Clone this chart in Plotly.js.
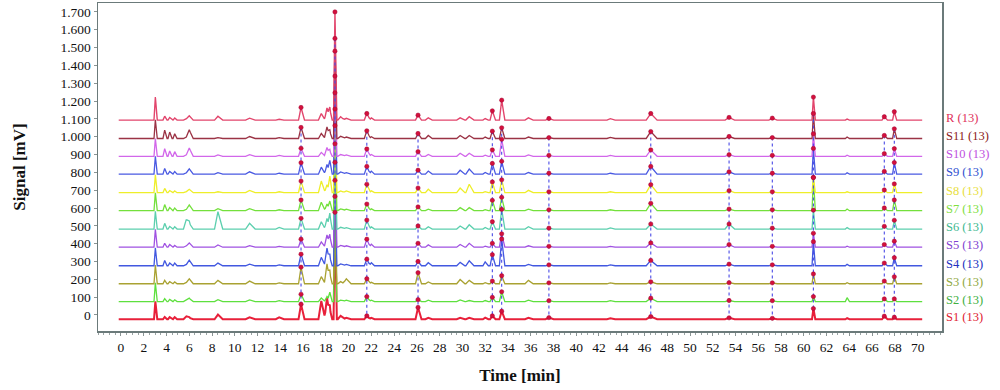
<!DOCTYPE html>
<html>
<head>
<meta charset="utf-8">
<script src="https://cdn.plot.ly/plotly-3.0.1.min.js"></script>
<style>html,body{margin:0;padding:0;background:#fff;}#chart{width:1000px;height:390px;}</style>
</head>
<body>
<div id="chart"></div>
<script>
const sampleNames = ["R", "S11", "S10", "S9", "S8", "S7", "S6", "S5", "S4", "S3", "S2", "S1"];
const sampleLabels = ["R (13)", "S11 (13)", "S10 (13)", "S9 (13)", "S8 (13)", "S7 (13)", "S6 (13)", "S5 (13)", "S4 (13)", "S3 (13)", "S2 (13)", "S1 (13)"];
// baseline signal level of each stacked chromatogram (mV)
const baselines = [1093, 990, 890, 790, 686, 585, 482, 380, 276, 175, 75, -24];
// retention times of detected peaks (min)
const peakTimes = [3.02, 3.84, 4.28, 4.72, 5.74, 6.0, 8.52, 11.3, 13.9, 15.82, 17.6, 18.1, 18.35, 18.8, 19.3, 19.8,
  21.6, 22.0, 26.1, 27.0, 29.8, 30.6, 32.0, 32.63, 33.45, 35.8, 37.6, 43.0, 46.55, 53.43, 57.23, 60.84, 63.8, 67.07, 67.95];
// half width of each peak (min)
const peakWidths = [0.12, 0.15, 0.15, 0.15, 0.25, 0.25, 0.3, 0.35, 0.3, 0.22, 0.25, 0.22, 0.15, 0.12, 0.25, 0.3,
  0.22, 0.2, 0.22, 0.25, 0.3, 0.3, 0.2, 0.2, 0.2, 0.3, 0.3, 0.3, 0.4, 0.35, 0.3, 0.12, 0.15, 0.2, 0.15];
// indices of the 13 common (matched) peaks
const commonPeaks = [9, 13, 16, 18, 23, 24, 26, 28, 29, 30, 31, 33, 34];
// peak heights above baseline (mV), one row per sample
const hR   = [130, 22, 15, 12, 8, 22, 22, 11, 5, 71, 37, 69, 60, 607, 19, 10, 37, 12, 28, 13, 13, 19, 9, 52, 112, 13, 9, 8, 37, 15, 11, 129, 6, 19, 47];
const hS11 = [105, 47, 36, 26, 8, 47, 5, 11, 5, 62, 28, 65, 37, 561, 12, 8, 43, 10, 28, 17, 17, 17, 8, 41, 60, 8, 5, 6, 39, 11, 5, 140, 8, 17, 54];
const hS10 = [100, 43, 30, 26, 8, 45, 8, 9, 5, 45, 22, 50, 30, 590, 10, 8, 41, 10, 26, 10, 17, 17, 6, 36, 95, 8, 5, 5, 36, 9, 5, 126, 6, 15, 43];
const hS9  = [100, 32, 15, 15, 8, 28, 8, 13, 5, 64, 39, 54, 67, 550, 12, 8, 43, 17, 22, 17, 22, 28, 9, 60, 72, 9, 5, 5, 43, 13, 5, 144, 8, 15, 65];
const hS8  = [100, 24, 12, 10, 6, 17, 5, 13, 5, 65, 65, 45, 84, 560, 10, 10, 47, 10, 26, 19, 26, 47, 6, 60, 72, 13, 5, 5, 45, 11, 5, 86, 5, 15, 49];
const hS7  = [100, 34, 18, 15, 8, 30, 11, 11, 5, 60, 47, 37, 47, 570, 10, 8, 37, 10, 21, 8, 17, 17, 6, 58, 75, 8, 5, 5, 41, 9, 5, 185, 9, 15, 60];
const hS6  = [100, 32, 15, 13, 54, 32, 97, 32, 9, 60, 41, 60, 78, 580, 10, 8, 50, 12, 17, 13, 17, 24, 9, 41, 110, 13, 5, 6, 28, 28, 5, 106, 8, 15, 49];
const hS5  = [100, 22, 15, 10, 8, 22, 13, 9, 5, 45, 30, 69, 60, 580, 10, 8, 45, 17, 22, 13, 15, 22, 6, 22, 75, 8, 5, 5, 24, 15, 5, 78, 6, 15, 34];
const hS4  = [100, 30, 15, 15, 8, 30, 15, 9, 5, 65, 47, 99, 47, 580, 10, 8, 37, 17, 24, 17, 19, 28, 22, 62, 150, 8, 5, 5, 30, 9, 5, 135, 8, 15, 45];
const hS3  = [105, 19, 12, 10, 8, 26, 19, 15, 5, 93, 40, 112, 56, 580, 12, 28, 28, 8, 62, 10, 24, 19, 6, 15, 45, 19, 5, 5, 11, 6, 5, 55, 6, 15, 39];
const hS2  = [105, 17, 12, 10, 8, 17, 11, 9, 5, 41, 20, 28, 47, 590, 8, 8, 28, 8, 11, 8, 9, 6, 6, 24, 55, 8, 5, 5, 19, 6, 5, 28, 22, 15, 15];
const hS1  = [100, 13, 12, 12, 17, 8, 26, 11, 11, 84, 103, 121, 56, 600, 19, 8, 19, 8, 66, 8, 8, 8, 9, 19, 45, 8, 9, 5, 15, 8, 5, 60, 6, 17, 11];
const heights = [hR, hS11, hS10, hS9, hS8, hS7, hS6, hS5, hS4, hS3, hS2, hS1];
const runStart = -0.2, runEnd = 70.4;
const xTickLabels = [0,2,4,6,8,10,12,14,16,18,20,22,24,26,28,30,32,34,36,38,40,42,44,46,48,50,52,54,56,58,60,62,64,66,68,70];

// ---- styles ----
const lineColors = ["#e2456c", "#9b3345", "#d267ea", "#4a5ae2", "#eeee2a", "#74e03c", "#5ccfae", "#a052e2", "#4258e0", "#a9a232", "#5ee03e", "#e8203a"];
const labelColors = ["#e0305a", "#8b2020", "#c050e0", "#3050d0", "#e8e040", "#80e040", "#40b890", "#8040d0", "#2030c0", "#90a840", "#40b040", "#e02030"];
const lineWidths = [1.4, 1.3, 1.3, 1.3, 1.3, 1.3, 1.3, 1.3, 1.3, 1.3, 1.3, 2];
const TAIL = 1.4;
const serif = "Liberation Serif, DejaVu Serif, serif";

function signalAt(s, x) {
  let y = baselines[s];
  const h = heights[s];
  for (let k = 0; k < peakTimes.length; k++) {
    const t = peakTimes[k], wl = peakWidths[k], wr = peakWidths[k] * TAIL;
    if (x > t - wl && x <= t) y += h[k] * (x - (t - wl)) / wl;
    else if (x > t && x < t + wr) y += h[k] * ((t + wr) - x) / wr;
  }
  return y;
}

const traces = [];
const order = [];
for (let s = sampleNames.length - 1; s >= 0; s--) order.push(s);
order.forEach(s => {
  const nodes = [runStart, runEnd];
  peakTimes.forEach((t, k) => {
    if (heights[s][k] > 0) nodes.push(t - peakWidths[k], t, t + peakWidths[k] * TAIL);
  });
  const xs = Array.from(new Set(nodes)).sort((a, b) => a - b).filter(v => v >= runStart && v <= runEnd);
  traces.push({
    type: "scatter", mode: "lines", name: sampleNames[s],
    x: xs, y: xs.map(v => signalAt(s, v)),
    line: { color: lineColors[s], width: lineWidths[s] },
    hoverinfo: "skip", showlegend: false
  });
});

// dotted matching lines across samples (S11..S1) for each common peak
commonPeaks.forEach(k => {
  const xs = [], ys = [];
  for (let s = 1; s < sampleNames.length; s++) { xs.push(peakTimes[k]); ys.push(signalAt(s, peakTimes[k])); }
  traces.push({
    type: "scatter", mode: "lines", x: xs, y: ys,
    line: { color: "#4a4ae6", width: 1.1, dash: "dot" }, hoverinfo: "skip", showlegend: false
  });
});

// markers at apex of each common peak in every sample
const mx = [], my = [];
for (let s = 0; s < sampleNames.length; s++) {
  commonPeaks.forEach(k => { mx.push(peakTimes[k]); my.push(signalAt(s, peakTimes[k])); });
}
traces.push({
  type: "scatter", mode: "markers", x: mx, y: my,
  marker: { symbol: "circle", size: 4.3, color: "#d3103c", line: { color: "#a00030", width: 0.5 } },
  hoverinfo: "skip", showlegend: false
});

const annotations = sampleLabels.map((lab, s) => ({
  xref: "paper", yref: "y", x: 1.002, y: baselines[s], xanchor: "left", yanchor: "middle",
  yshift: 2, text: lab, showarrow: false,
  font: { family: serif, size: 12.5, color: labelColors[s] }
}));

const layout = {
  width: 1000, height: 390,
  margin: { l: 98, r: 58, t: 3, b: 59 },
  paper_bgcolor: "#ffffff", plot_bgcolor: "#ffffff",
  separators: ",.",
  showlegend: false,
  xaxis: {
    range: [-2.02, 72.14], tickmode: "array", tickvals: xTickLabels, ticktext: xTickLabels.map(String),
    ticks: "outside", ticklen: 3, tickcolor: "#8a9494", showgrid: false, zeroline: false,
    showline: true, mirror: true, linecolor: "#6b7a7a", linewidth: 1.5,
    minor: { dtick: 0.5, tick0: 0, ticks: "outside", ticklen: 2, tickcolor: "#9aa4a4", showgrid: false },
    tickfont: { family: serif, size: 13.5, color: "#111" },
    title: { text: "<b>Time [min]</b>", font: { family: serif, size: 17, color: "#111" }, standoff: 15 }
  },
  yaxis: {
    range: [-90, 1750], dtick: 100, tick0: 0, tickformat: ",d",
    ticks: "outside", ticklen: 3, tickcolor: "#8a9494", showgrid: false, zeroline: false,
    showline: true, mirror: true, linecolor: "#6b7a7a", linewidth: 1.5,
    tickfont: { family: serif, size: 13.5, color: "#111" },
    title: { text: "<b>Signal [mV]</b>", font: { family: serif, size: 17, color: "#111" }, standoff: 30 }
  },
  annotations: annotations
};

Plotly.newPlot("chart", traces, layout, { staticPlot: true, displayModeBar: false });
</script>
</body>
</html>
